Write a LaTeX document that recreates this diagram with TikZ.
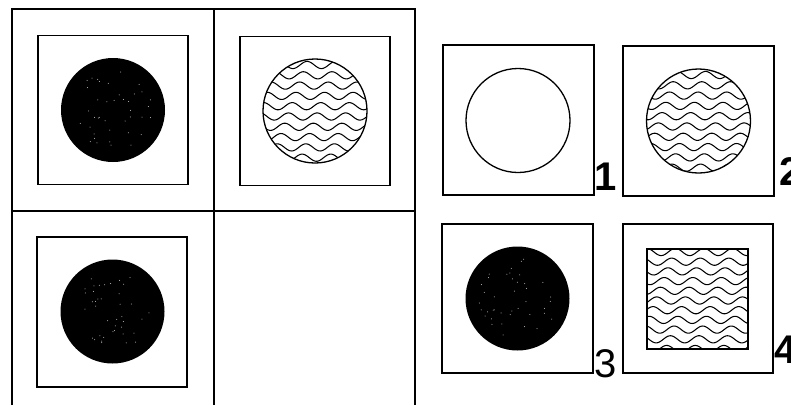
\documentclass[tikz,border=0pt]{standalone}
\usepackage{fontspec}
\setmainfont{Liberation Sans}
\newcommand\wavyrows[6]{% x0, x1, y0, dy, last index, phase
  \foreach \k in {0,...,#5}{
    \draw[wave] plot[domain=#1:#2, samples=70, smooth]
      (\x, {#3 + \k*#4 + 3.6*sin(\x*12.6 + \k*47 + #6)});
  }}
\newcommand\specks[3]{% cx, cy, seed
  \pgfmathsetseed{#3}
  \foreach \i in {1,...,40}{
    \pgfmathsetmacro\ang{rnd*360}
    \pgfmathsetmacro\rad{sqrt(rnd)*40}
    \fill[gray!45] ({#1+\rad*cos(\ang)}, {#2+\rad*sin(\ang)}) circle[radius=0.5pt];
  }}
\begin{document}
\begin{tikzpicture}[x=1pt,y=-1pt,
  frame/.style={line width=1.6pt},
  panel/.style={draw, line width=1.6pt, minimum width=150pt, minimum height=149pt, inner sep=0pt},
  disc/.style={circle, fill=black, minimum size=104pt, inner sep=0pt},
  ring/.style={circle, draw, line width=1.3pt, minimum size=104pt, inner sep=0pt},
  wave/.style={line width=1.05pt},
  lab/.style={font=\fontsize{40}{40}\selectfont\bfseries, inner sep=0pt},
  labreg/.style={font=\fontsize{40}{40}\selectfont, inner sep=0pt}]
\useasboundingbox[fill=white] (0,0) rectangle (791,405);

% grid of the problem
\coordinate (tl) at (12,9);
\coordinate (tm) at (214,9);
\coordinate (tr) at (415,9);
\coordinate (ml) at (12,211);
\coordinate (mr) at (415,211);
\coordinate (bl) at (12,405);
\coordinate (bm) at (214,405);
\coordinate (br) at (415,405);
\draw[frame] (bl) -- (tl) -- (tr) -- (br);
\draw[frame] (tm) -- (bm);
\draw[frame] (ml) -- (mr);

% problem panels
\node[panel] (pA) at (113,110) {};
\node[panel] (pB) at (315,111) {};
\node[panel, minimum width=150pt, minimum height=150pt] (pC) at (112,312) {};

\node[disc] (cA) at (113,110) {};
\specks{113}{110}{7}
\begin{scope}
  \clip (315,111) circle[radius=52pt];
  \wavyrows{260}{370}{65}{10.3}{9}{0}
\end{scope}
\node[ring] (cB) at (315,111) {};
\node[disc] (cC) at (112.5,311.5) {};
\specks{112.5}{311.5}{11}

% answer options
\node[panel, minimum width=151pt, minimum height=150pt] (o1) at (518.5,120) {};
\node[panel, minimum width=151pt, minimum height=150pt] (o2) at (698.5,121) {};
\node[panel, minimum width=151pt, minimum height=149pt] (o3) at (517.5,298.5) {};
\node[panel, minimum width=150pt, minimum height=149pt] (o4) at (698,298.5) {};

\node[ring] (c1) at (518,120.5) {};
\begin{scope}
  \clip (698.5,121) circle[radius=52pt];
  \wavyrows{644}{754}{75}{10.3}{9}{20}
\end{scope}
\node[ring] (c2) at (698.5,121) {};
\node[disc] (c3) at (517.5,298.5) {};
\specks{517.5}{298.5}{5}
\begin{scope}
  \clip (647,249) rectangle (748,349);
  \wavyrows{645}{750}{252}{9.7}{10}{40}
\end{scope}
\node[draw, line width=1.3pt, minimum width=101pt, minimum height=100pt, inner sep=0pt] (s4) at (697.5,299) {};

% labels
\node[lab] (l1) at (605.5,177) {1};
\node[lab, anchor=west] (l2) at (779,172) {2};
\node[labreg] (l3) at (605.5,363.5) {3};
\node[lab, anchor=west] (l4) at (774,349.5) {4};
\end{tikzpicture}
\end{document}
